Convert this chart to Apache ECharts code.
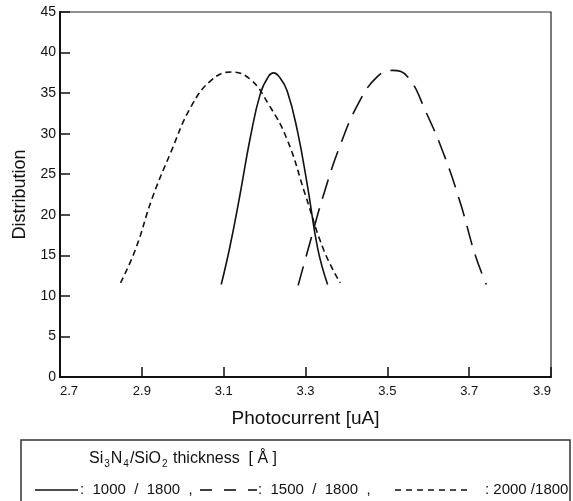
<!DOCTYPE html>
<html>
<head>
<meta charset="utf-8">
<script src="https://cdn.jsdelivr.net/npm/echarts@6/dist/echarts.min.js"></script>
<style>
  html, body { margin: 0; padding: 0; background: #fff; }
  #chart { width: 573px; height: 501px; }
</style>
</head>
<body>
<div id="chart"></div>
<script>
// values
var xTicks = [2.7, 3.9, 0.2];   // min, max, step
var yTicks = [0, 45, 5];

// 1000 / 1800 (solid)
var s1000X = [3.094, 3.115, 3.140, 3.165, 3.190, 3.210, 3.222, 3.236, 3.255, 3.280, 3.305, 3.330, 3.354];
var s1000Y = [11.4, 16.0, 22.5, 29.5, 35.0, 37.1, 37.5, 37.0, 35.3, 30.4, 23.5, 15.8, 11.4];
// 1500 / 1800 (long dash)
var s1500X = [3.282, 3.310, 3.345, 3.385, 3.430, 3.475, 3.512, 3.550, 3.595, 3.640, 3.680, 3.715, 3.742];
var s1500Y = [11.3, 16.4, 22.6, 28.6, 33.8, 37.0, 37.8, 37.0, 32.6, 27.2, 21.2, 15.0, 11.4];
// 2000 / 1800 (short dash)
var s2000X = [2.848, 2.885, 2.925, 2.970, 3.020, 3.070, 3.118, 3.165, 3.210, 3.255, 3.300, 3.345, 3.385];
var s2000Y = [11.6, 15.8, 22.0, 27.6, 33.3, 36.6, 37.6, 36.7, 33.6, 29.3, 22.4, 15.6, 11.6];

var legendLabels = [":  1000  /  1800  ,", ":  1500  /  1800  ,", ": 2000 /1800"];

function pairs(xs, ys) {
  return xs.map(function (x, i) { return [x, ys[i]]; });
}

var chart = echarts.init(document.getElementById("chart"));
var font = "'Liberation Sans', Arial, sans-serif";

function curve(name, xs, ys, dash) {
  return {
    name: name,
    type: "line",
    data: pairs(xs, ys),
    smooth: 0.45,
    symbol: "none",
    lineStyle: { color: "#111", width: 1.6, type: dash },
    z: 3
  };
}

var option = {
  backgroundColor: "#fff",
  animation: false,
  grid: { left: 60, right: 22, top: 12, bottom: 124, show: true, borderColor: "#222", borderWidth: 1.2 },
  xAxis: {
    type: "value",
    min: xTicks[0], max: xTicks[1], interval: xTicks[2],
    name: "Photocurrent [uA]",
    nameLocation: "middle",
    nameGap: 32,
    nameTextStyle: { fontFamily: font, fontSize: 19, color: "#111" },
    axisLine: { lineStyle: { color: "#111", width: 2 } },
    axisTick: { inside: true, length: 10, lineStyle: { color: "#111", width: 1.5 } },
    splitLine: { show: false },
    axisLabel: {
      fontFamily: font, fontSize: 13, color: "#111", margin: 8,
      alignMinLabel: "left", alignMaxLabel: "right",
      formatter: function (v) { return v.toFixed(1); }
    }
  },
  yAxis: {
    type: "value",
    min: yTicks[0], max: yTicks[1], interval: yTicks[2],
    name: "Distribution",
    nameLocation: "middle",
    nameGap: 30,
    nameTextStyle: { fontFamily: font, fontSize: 18, color: "#111" },
    axisLine: { show: true, lineStyle: { color: "#111", width: 2 } },
    axisTick: { show: true, inside: true, length: 10, lineStyle: { color: "#111", width: 1.5 } },
    splitLine: { show: false },
    axisLabel: { fontFamily: font, fontSize: 14, color: "#111", margin: 4 }
  },
  series: [
    curve("1000 / 1800", s1000X, s1000Y, "solid"),
    curve("1500 / 1800", s1500X, s1500Y, [20, 10]),
    curve("2000 / 1800", s2000X, s2000Y, [6, 4])
  ],
  graphic: [
    { type: "rect", shape: { x: 21, y: 440, width: 549, height: 80 },
      style: { fill: "none", stroke: "#333", lineWidth: 1.5 } },
    { type: "text", x: 89, y: 449,
      style: {
        text: "Si{s|3}N{s|4}/SiO{s|2} thickness  [ Å ]",
        font: "16px " + font, fill: "#111",
        rich: { s: { fontSize: 10, fontFamily: font, padding: [10, 1, 0, 1], fill: "#111" } }
      } },
    { type: "line", shape: { x1: 35, y1: 490, x2: 78, y2: 490 },
      style: { stroke: "#111", lineWidth: 1.6 } },
    { type: "text", x: 80, y: 482, style: { text: legendLabels[0], font: "15px " + font, fill: "#111" } },
    { type: "line", shape: { x1: 200, y1: 490, x2: 257, y2: 490 },
      style: { stroke: "#111", lineWidth: 1.6, lineDash: [12, 12] } },
    { type: "text", x: 258, y: 482, style: { text: legendLabels[1], font: "15px " + font, fill: "#111" } },
    { type: "line", shape: { x1: 395, y1: 490, x2: 468, y2: 490 },
      style: { stroke: "#111", lineWidth: 1.6, lineDash: [6, 5] } },
    { type: "text", x: 485, y: 482, style: { text: legendLabels[2], font: "15px " + font, fill: "#111" } }
  ]
};

chart.setOption(option);
</script>
</body>
</html>
